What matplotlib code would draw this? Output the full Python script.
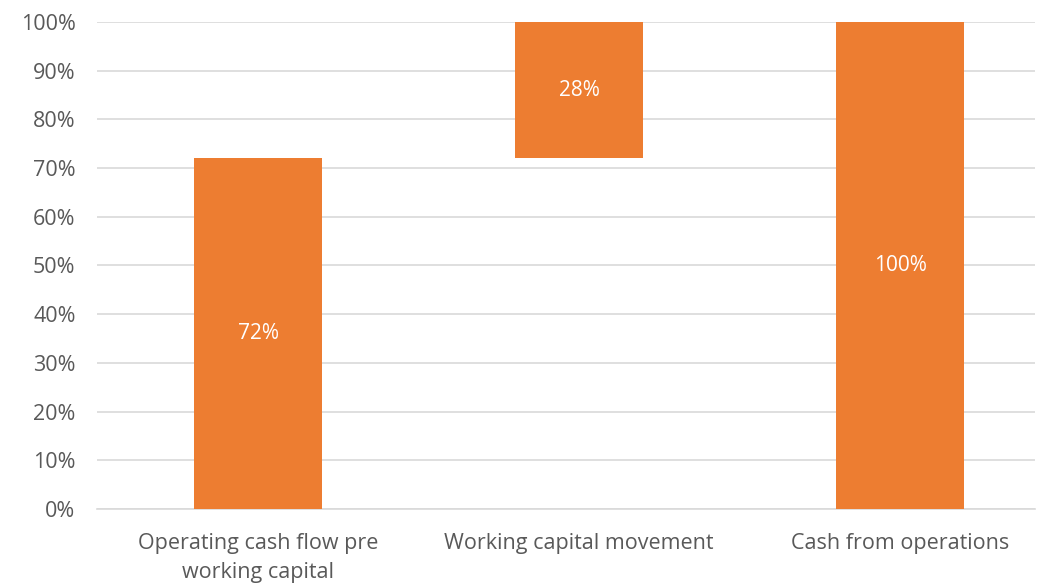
import matplotlib.pyplot as plt
from matplotlib.ticker import PercentFormatter

# Data
categories = ["Operating cash flow pre\nworking capital", "Working capital movement", "Cash from operations"]
bottoms = [0, 72, 0]
heights = [72, 28, 100]
labels = ["72%", "28%", "100%"]

plt.rcParams['font.family'] = ['Open Sans', 'DejaVu Sans']

fig = plt.figure(figsize=(10.39, 5.83), dpi=100)
ax = fig.add_axes([0.0934, 0.1269, 0.9028, 0.8354])

x = range(len(categories))
bars = ax.bar(x, heights, bottom=bottoms, width=0.4, color="#ED7D31", zorder=3)

# Labels in the middle of each bar
for rect, lab in zip(bars, labels):
    ax.text(rect.get_x() + rect.get_width() / 2, rect.get_y() + rect.get_height() / 2,
            lab, ha="center", va="center", color="white", fontsize=15, zorder=4)

ax.set_ylim(0, 100)
ax.set_xlim(-0.502, 2.42)
ax.set_yticks(range(0, 101, 10))
ax.yaxis.set_major_formatter(PercentFormatter(decimals=0))
ax.set_xticks(list(x))
ax.set_xticklabels(categories, linespacing=1.5)

ax.grid(axis="y", color="#D9D9D9", linewidth=1.2, zorder=0)
for s in ["top", "right", "left"]:
    ax.spines[s].set_visible(False)
ax.spines["bottom"].set_color("#D9D9D9")
ax.spines["bottom"].set_linewidth(1.2)
ax.tick_params(axis="both", length=0, labelsize=15.5, labelcolor="#595959")
ax.tick_params(axis="y", pad=15.5)
ax.tick_params(axis="x", pad=17)

plt.savefig("out.png", dpi=100)
